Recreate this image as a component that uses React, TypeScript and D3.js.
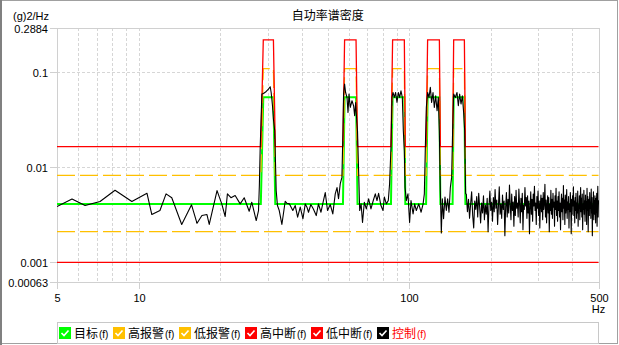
import React from 'react';
import * as d3 from 'd3';

// ---- Data ----
const title = '自功率谱密度';
const yUnit = '(g)2/Hz';
const xUnit = 'Hz';
const xTickValues = [5, 10, 100, 500];
const xGridValues = [6, 7, 8, 9, 10, 20, 30, 40, 50, 60, 70, 80, 90, 100, 200, 300, 400];
const yTickValues = [0.2884, 0.1, 0.01, 0.001, 0.00063];
const yTickLabels = ['0.2884', '0.1', '0.01', '0.001', '0.00063'];
const yGridValues = [0.1, 0.01, 0.001];

// Reference profile breakpoints (Hz)
const profileFreq = [5, 28.3, 28.9, 31.5, 32.0, 56.9, 57.7, 63.6, 64.4, 85.6, 86.8, 95.9, 96.7, 115.4, 116.9, 129.2, 130.3, 144.6, 145.9, 159.8, 161.2, 500];
const targetPsd = [0.0041, 0.0041, 0.054, 0.054, 0.0041, 0.0041, 0.054, 0.054, 0.0041, 0.0041, 0.054, 0.054, 0.0041, 0.0041, 0.054, 0.054, 0.0041, 0.0041, 0.054, 0.054, 0.0041, 0.0041];
const highAlarmPsd = [0.0082, 0.0082, 0.108, 0.108, 0.0082, 0.0082, 0.108, 0.108, 0.0082, 0.0082, 0.108, 0.108, 0.0082, 0.0082, 0.108, 0.108, 0.0082, 0.0082, 0.108, 0.108, 0.0082, 0.0082];
const highAbortPsd = [0.0164, 0.0164, 0.216, 0.216, 0.0164, 0.0164, 0.216, 0.216, 0.0164, 0.0164, 0.216, 0.216, 0.0164, 0.0164, 0.216, 0.216, 0.0164, 0.0164, 0.216, 0.216, 0.0164, 0.0164];
const lowFreq = [5, 500];
const lowAlarmPsd = [0.0021, 0.0021];
const lowAbortPsd = [0.001, 0.001];

// Control spectrum, 5 - 161.5 Hz
const controlFreq = [
  5.0, 5.68, 6.35, 7.21, 8.19, 9.45, 10.75, 11.2, 12.0, 12.64,
  13.27, 14.44, 15.7, 16.45, 17.15, 17.9, 18.25, 19.5, 20.3, 20.9,
  21.3, 21.95, 22.75, 23.74, 24.57, 25.63, 26.2, 26.75, 27.21, 27.75,
  27.95, 28.15, 28.55, 28.95, 29.63, 30.2, 30.65, 30.9, 31.25, 31.5,
  31.85, 32.25, 32.6, 33.1, 33.85, 34.82, 35.3, 36.1, 37.15, 37.92,
  38.7, 39.57, 40.5, 41.29, 41.9, 42.45, 43.3, 44.25, 45.34, 46.2,
  47.2, 48.2, 48.95, 49.9, 51.07, 52.2, 53.29, 54.1, 54.8, 55.62,
  56.4, 56.9, 57.2, 57.7, 58.2, 58.9, 59.4, 59.9, 60.56, 61.45,
  62.3, 62.85, 63.4, 64.1, 64.4, 65.0, 65.6, 66.4, 67.2, 68.24,
  69.41, 70.8, 72.2, 73.5, 74.92, 76.0, 77.05, 78.6, 80.0, 80.9,
  82.27, 83.68, 84.6, 85.6, 86.35, 87.1, 88.07, 89.05, 90.1, 91.12,
  92.15, 93.2, 94.28, 95.08, 95.9, 96.5, 97.54, 98.9, 100.3, 101.5,
  103.3, 104.7, 106.2, 108.4, 110.6, 112.5, 113.68, 114.65, 115.63, 116.9,
  118.3, 119.63, 120.95, 122.4, 123.77, 125.2, 126.7, 128.05, 129.15, 130.25,
  131.36, 132.48, 133.9, 135.5, 137.07, 138.6, 140.2, 141.81, 143.4, 144.6,
  145.9, 147.98, 150.1, 151.81, 153.5, 155.3, 157.07, 158.8, 160.2, 161.5,
];
const controlPsd = [
  0.00386, 0.00462, 0.00395, 0.00435, 0.00571, 0.00435, 0.00531, 0.00318, 0.0035, 0.00524,
  0.00477, 0.0025, 0.00402, 0.00257, 0.0031, 0.00318, 0.0025, 0.00567, 0.00411, 0.00303,
  0.00524, 0.00477, 0.00503, 0.00411, 0.00477, 0.00344, 0.00428, 0.00336, 0.00275, 0.0035,
  0.0064, 0.016, 0.0584, 0.0593, 0.0622, 0.0659, 0.0697, 0.0607, 0.044, 0.032,
  0.0241, 0.00567, 0.00395, 0.0035, 0.0025, 0.00438, 0.00418, 0.00411, 0.0035, 0.00395,
  0.00298, 0.0038, 0.00287, 0.00411, 0.0038, 0.00336, 0.00405, 0.00364, 0.0031, 0.00411,
  0.00336, 0.00446, 0.0054, 0.0035, 0.00405, 0.00323, 0.00524, 0.0061, 0.00465, 0.0067,
  0.0078, 0.0241, 0.0584, 0.0745, 0.0607, 0.0538, 0.0375, 0.0584, 0.0423, 0.0497,
  0.044, 0.0346, 0.0477, 0.0283, 0.0241, 0.0092, 0.0035, 0.00411, 0.00262, 0.00428,
  0.00364, 0.00465, 0.00364, 0.00438, 0.00524, 0.00446, 0.00531, 0.00395, 0.0035, 0.00486,
  0.00411, 0.00446, 0.0067, 0.0161, 0.0538, 0.0607, 0.0538, 0.0607, 0.0477, 0.0607,
  0.0538, 0.0632, 0.0538, 0.0241, 0.0149, 0.0061, 0.00446, 0.00524, 0.00262, 0.00446,
  0.00323, 0.00411, 0.0035, 0.00411, 0.00336, 0.00411, 0.00524, 0.0161, 0.0423, 0.0607,
  0.0538, 0.0688, 0.0477, 0.0607, 0.0423, 0.0561, 0.0391, 0.0538, 0.0241, 0.00567,
  0.00204, 0.00465, 0.00287, 0.00486, 0.0035, 0.00465, 0.00336, 0.0061, 0.0078, 0.0241,
  0.0584, 0.0538, 0.0607, 0.044, 0.0584, 0.0459, 0.0561, 0.0375, 0.0241, 0.00524,
];
// Control spectrum, uniform bins from 162.5 Hz to 500 Hz
const controlHighStartHz = 162.5;
const controlHighStepHz = 1.5;
const controlHighPsd = [
  0.0052, 0.0034, 0.0046, 0.0029, 0.0041, 0.0055, 0.0031, 0.0023, 0.0044, 0.0036,
  0.0049, 0.0030, 0.0053, 0.0038, 0.0026, 0.0042, 0.0033, 0.0050, 0.0028, 0.0040,
  0.0032, 0.0047, 0.0021, 0.0039, 0.0056, 0.0035, 0.0043, 0.0027, 0.0048, 0.0034,
  0.0058, 0.0037, 0.0045, 0.0025, 0.0039, 0.0062, 0.0032, 0.0041, 0.0029, 0.0051,
  0.0036, 0.0044, 0.0019, 0.0038, 0.0054, 0.0030, 0.0046, 0.0033, 0.0065, 0.0040,
  0.0028, 0.0052, 0.0035, 0.0043, 0.0024, 0.0049, 0.0031, 0.0057, 0.0037, 0.0042,
  0.0030, 0.0059, 0.0041, 0.0026, 0.0047, 0.0034, 0.0053, 0.0022, 0.0040, 0.0036,
  0.0061, 0.0039, 0.0048, 0.0029, 0.0050, 0.0033, 0.0044, 0.0020, 0.0038, 0.0055,
  0.0032, 0.0046, 0.0027, 0.0052, 0.0039, 0.0063, 0.0035, 0.0042, 0.0025, 0.0049,
  0.0037, 0.0056, 0.0031, 0.0044, 0.0023, 0.0040, 0.0051, 0.0034, 0.0047, 0.0028,
  0.0054, 0.0036, 0.0042, 0.0066, 0.0030, 0.0045, 0.0026, 0.0039, 0.0050, 0.0033,
  0.0048, 0.0021, 0.0041, 0.0035, 0.0057, 0.0032, 0.0046, 0.0029, 0.0053, 0.0038,
  0.0043, 0.0024, 0.0050, 0.0036, 0.0060, 0.0031, 0.0044, 0.0027, 0.0049, 0.0035,
  0.0055, 0.0030, 0.0042, 0.0022, 0.0039, 0.0052, 0.0034, 0.0047, 0.0028, 0.0064,
  0.0037, 0.0045, 0.0025, 0.0051, 0.0033, 0.0040, 0.0058, 0.0029, 0.0043, 0.0036,
  0.0049, 0.0023, 0.0041, 0.0034, 0.0054, 0.0038, 0.0020, 0.0046, 0.0032, 0.0050,
  0.0039, 0.0062, 0.0031, 0.0044, 0.0026, 0.0048, 0.0035, 0.0053, 0.0029, 0.0042,
  0.0033, 0.0056, 0.0024, 0.0040, 0.0037, 0.0050, 0.0028, 0.0045, 0.0061, 0.0034,
  0.0047, 0.0030, 0.0052, 0.0022, 0.0041, 0.0036, 0.0057, 0.0032, 0.0044, 0.0027,
  0.0051, 0.0038, 0.0043, 0.0025, 0.0060, 0.0035, 0.0049, 0.0021, 0.0039, 0.0046,
  0.0031, 0.0054, 0.0037, 0.0042, 0.0029, 0.0059, 0.0033, 0.0048, 0.0019, 0.0040,
  0.0036, 0.0055, 0.0028, 0.0044, 0.0032, 0.0050, 0.0039, 0.0026, 0.0047, 0.0034,
  0.0053, 0.0024, 0.0041, 0.0063, 0.0030, 0.0045,
];

const legendNames = ['目标', '高报警', '低报警', '高中断', '低中断', '控制'];
const legendSuffix = '(f)';
const legendColors = ['#00ff00', '#ffc000', '#ffc000', '#ff0000', '#ff0000', '#000000'];
const legendTextColors = ['#000', '#000', '#000', '#000', '#000', '#ff0000'];
const legendBoxX = [59, 113, 179, 245, 311, 377];

const NUM_FONT = '"Liberation Sans", Arial, sans-serif';
const CJK_FONT = '"Noto Sans CJK SC", "Noto Sans", sans-serif';

type Pt = [number, number];

export default function App() {
  const L = 57, R = 598.5, T = 28, B = 281.5;
  const x = d3.scaleLog().domain([5, 500]).range([L, R]);
  const y = d3.scaleLog().domain([0.00063, 0.2884]).range([B, T]);
  const line = d3.line<Pt>().x((d) => x(d[0])).y((d) => y(d[1]));

  const zip = (f: number[], v: number[]): Pt[] => f.map((fi, i) => [fi, v[i]] as Pt);
  const target = zip(profileFreq, targetPsd);
  const hiAlarm = zip(profileFreq, highAlarmPsd);
  const hiAbort = zip(profileFreq, highAbortPsd);
  const loAlarm = zip(lowFreq, lowAlarmPsd);
  const loAbort = zip(lowFreq, lowAbortPsd);
  const control: Pt[] = zip(controlFreq, controlPsd).concat(
    controlHighPsd.map((v, i) => [controlHighStartHz + i * controlHighStepHz, v] as Pt)
  );

  const grid = '#d6d6d6';
  const axisCol = '#d0d0d0';

  return (
    <svg
      width={619}
      height={345}
      style={{ position: 'absolute', left: 0, top: 0, background: '#fff' }}
    >
      <defs>
        <clipPath id="plotClip">
          <rect x={L} y={T - 1} width={R - L + 1} height={B - T + 2} />
        </clipPath>
      </defs>
      <rect x={0} y={0} width={619} height={345} fill="#fff" />
      {/* outer frame */}
      <rect x={0.5} y={0.5} width={617} height={343} fill="none" stroke="#a0a0a0" />
      <line x1={1} y1={0} x2={1} y2={345} stroke="#808080" strokeWidth={2} />

      {/* title */}
      <text x={(L + R) / 2} y={19.5} textAnchor="middle" fontFamily={CJK_FONT} fontSize={12} fill="#000">
        {title}
      </text>
      <text x={13} y={19.5} fontFamily={NUM_FONT} fontSize={11} fill="#000">{yUnit}</text>

      {/* grid */}
      <g stroke={grid} strokeDasharray="3,2" shapeRendering="crispEdges">
        {xGridValues.map((v) => (
          <line key={'gx' + v} x1={Math.round(x(v)) + 0.5} x2={Math.round(x(v)) + 0.5} y1={T} y2={B} />
        ))}
        {yGridValues.map((v) => (
          <line key={'gy' + v} x1={L} x2={R} y1={Math.round(y(v)) + 0.5} y2={Math.round(y(v)) + 0.5} />
        ))}
      </g>

      {/* plot border */}
      <rect x={L + 0.5} y={T + 0.5} width={R - L} height={B - T} fill="none" stroke={axisCol} shapeRendering="crispEdges" />

      {/* y ticks */}
      <g fontFamily={NUM_FONT} fontSize={11} fill="#000">
        {yTickValues.map((v, i) => {
          const yy = Math.round(y(v)) + 0.5;
          return (
            <g key={'yt' + i}>
              <line x1={50} x2={L} y1={yy} y2={yy} stroke={axisCol} shapeRendering="crispEdges" />
              <text x={48} y={yy + 4} textAnchor="end">{yTickLabels[i]}</text>
            </g>
          );
        })}
      </g>

      {/* x ticks */}
      <g fontFamily={NUM_FONT} fontSize={11} fill="#000">
        {xTickValues.map((v) => {
          const xx = Math.round(x(v)) + 0.5;
          return (
            <g key={'xt' + v}>
              <line x1={xx} x2={xx} y1={B} y2={B + 7} stroke={axisCol} shapeRendering="crispEdges" />
              <text x={xx} y={302} textAnchor="middle">{String(v)}</text>
            </g>
          );
        })}
        <text x={R} y={313} textAnchor="middle">{xUnit}</text>
      </g>

      {/* series */}
      <g clipPath="url(#plotClip)" fill="none">
        <path d={line(target) || ''} stroke="#00ff00" strokeWidth={2} />
        <path d={line(hiAlarm) || ''} stroke="#ffc000" strokeWidth={1.3} strokeDasharray="18,5" />
        <path d={line(loAlarm) || ''} stroke="#ffc000" strokeWidth={1.3} strokeDasharray="18,5" />
        <path d={line(hiAbort) || ''} stroke="#ff0000" strokeWidth={1.3} />
        <path d={line(loAbort) || ''} stroke="#ff0000" strokeWidth={1.3} />
        <path d={line(control) || ''} stroke="#000" strokeWidth={1.1} strokeLinejoin="round" />
      </g>

      {/* legend */}
      <rect x={57.5} y={322.5} width={541} height={21} fill="#fff" stroke="#c8c8c8" />
      {legendNames.map((lab, i) => {
        const bx = legendBoxX[i];
        return (
          <g key={'lg' + i}>
            <rect x={bx} y={327} width={12} height={12} fill={legendColors[i]} />
            <path
              d={`M${bx + 2.5},${333} L${bx + 5},${335.5} L${bx + 9.5},${330.5}`}
              stroke="#fff"
              strokeWidth={1.6}
              fill="none"
            />
            <text x={bx + 15} y={338} fontFamily={CJK_FONT} fontSize={12} fill={legendTextColors[i]}>
              {lab}
              <tspan fontFamily={NUM_FONT} fontSize={10} dx={1}>{legendSuffix}</tspan>
            </text>
          </g>
        );
      })}
    </svg>
  );
}
